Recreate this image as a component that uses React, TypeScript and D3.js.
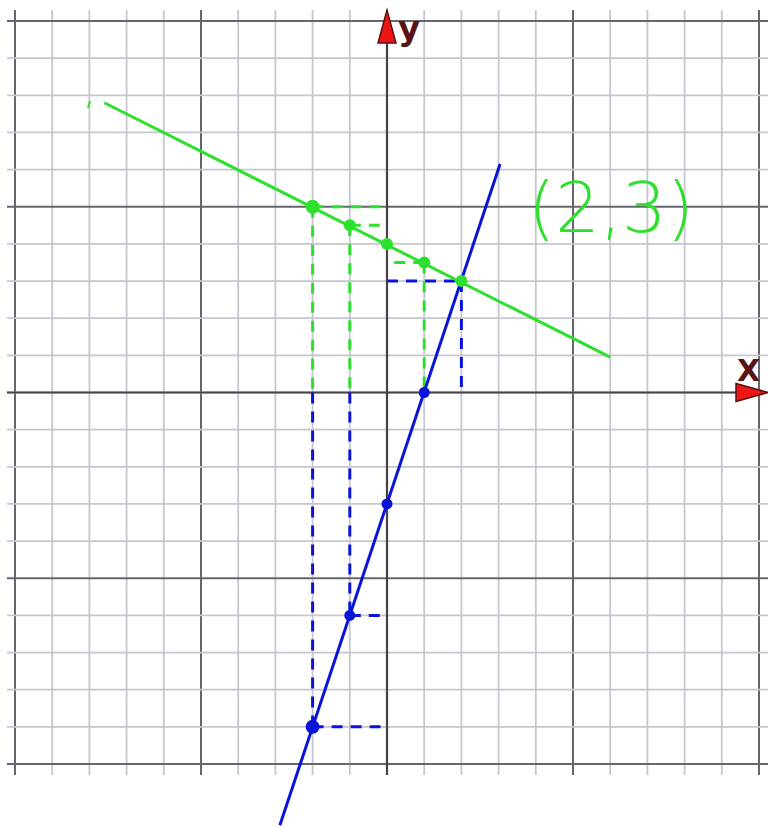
import React from "react";
import * as d3 from "d3";

const WIDTH = 768;
const HEIGHT = 827;

const gridTicks = d3.range(-10, 11);
const majorTicks = [-10, -5, 5, 10];

const greenLine: [number, number][] = [
  [-7.6, 7.8],
  [6.0, 0.95],
];
const blueLine: [number, number][] = [
  [-2.88, -11.65],
  [3.04, 6.15],
];

const greenPoints: [number, number][] = [
  [-2, 5],
  [-1, 4.5],
  [0, 4],
  [1, 3.5],
  [2, 3],
];
const bluePoints: [number, number][] = [
  [1, 0],
  [0, -3],
  [-1, -6],
  [-2, -9],
];

// dashed guide segments: [x1, y1, x2, y2]
const greenGuides = [
  [-2, 5, -2, 0],
  [-1, 4.5, -1, 0],
  [1, 3.5, 1, 0],
  [-2, 5, 0, 5],
  [-1, 4.5, 0, 4.5],
  [1, 3.5, 0, 3.5],
];
const blueGuides = [
  [0, 3, 2, 3],
  [2, 3, 2, 0],
  [-2, 0, -2, -9],
  [-1, 0, -1, -6],
  [-1, -6, 0, -6],
  [-2, -9, 0, -9],
];

const GREEN = "#2ee02e";
const BLUE = "#0a14d8";

const x = d3.scaleLinear().domain([-10, 10]).range([15, 759]);
const y = d3.scaleLinear().domain([-10, 10]).range([764, 21]);

const lineGen = d3
  .line<[number, number]>()
  .x((d) => x(d[0]))
  .y((d) => y(d[1]));

export default function App() {
  const x0 = x(0);
  const y0 = y(0);
  return (
    <svg
      width={WIDTH}
      height={HEIGHT}
      style={{ position: "absolute", left: 0, top: 0, background: "#fff" }}
    >
      {/* grid */}
      {gridTicks.map((t) => (
        <line
          key={"v" + t}
          x1={x(t)}
          x2={x(t)}
          y1={10}
          y2={775}
          stroke={majorTicks.includes(t) ? "#66666e" : "#c6c6d0"}
          strokeWidth={majorTicks.includes(t) ? 2 : 1.8}
        />
      ))}
      {gridTicks.map((t) => (
        <line
          key={"h" + t}
          x1={7}
          x2={WIDTH}
          y1={y(t)}
          y2={y(t)}
          stroke={majorTicks.includes(t) ? "#66666e" : "#c6c6d0"}
          strokeWidth={majorTicks.includes(t) ? 2 : 1.8}
        />
      ))}

      {/* axes */}
      <line x1={7} x2={740} y1={y0} y2={y0} stroke="#4a4048" strokeWidth={2.2} />
      <line x1={x0} x2={x0} y1={40} y2={775} stroke="#4a4048" strokeWidth={2.2} />
      <path
        d={`M${x0 - 9},43 L${x0},10 L${x0 + 9},43 Z`}
        fill="#ee1515"
        stroke="#5a1010"
        strokeWidth={1.5}
      />
      <path
        d={`M736,${y0 - 9} L768,${y0} L736,${y0 + 9} Z`}
        fill="#ee1515"
        stroke="#5a1010"
        strokeWidth={1.5}
      />
      <text
        x={x0 + 11}
        y={40}
        fontFamily="DejaVu Sans, sans-serif"
        fontSize={34}
        fontWeight="bold"
        fill="#5a1418"
      >
        y
      </text>
      <text
        x={737}
        y={381}
        fontFamily="DejaVu Sans, sans-serif"
        fontSize={30}
        fontWeight="bold"
        fill="#5a1418"
      >
        X
      </text>

      {/* dashed guides */}
      {blueGuides.map((g, i) => (
        <line
          key={"bg" + i}
          x1={x(g[0])}
          y1={y(g[1])}
          x2={x(g[2])}
          y2={y(g[3])}
          stroke={BLUE}
          strokeWidth={3}
          strokeDasharray="11 8"
        />
      ))}
      {greenGuides.map((g, i) => (
        <line
          key={"gg" + i}
          x1={x(g[0])}
          y1={y(g[1])}
          x2={x(g[2])}
          y2={y(g[3])}
          stroke={GREEN}
          strokeWidth={3}
          strokeDasharray="11 8"
        />
      ))}

      {/* lines */}
      <path d={lineGen(greenLine) ?? ""} stroke={GREEN} strokeWidth={3} fill="none" />
      <path d={lineGen(blueLine) ?? ""} stroke={BLUE} strokeWidth={3} fill="none" />
      <line x1={90} y1={101} x2={88} y2={108} stroke={GREEN} strokeWidth={2} />

      {/* points */}
      {greenPoints.map((p, i) => (
        <circle
          key={"gp" + i}
          cx={x(p[0])}
          cy={y(p[1])}
          r={i === 0 ? 7 : 6}
          fill={GREEN}
        />
      ))}
      {bluePoints.map((p, i) => (
        <circle
          key={"bp" + i}
          cx={x(p[0])}
          cy={y(p[1])}
          r={i === 3 ? 7 : 5.5}
          fill={BLUE}
        />
      ))}

      {/* annotation */}
      <text
        x={528}
        y={232}
        fontFamily="DejaVu Sans, sans-serif"
        fontWeight={200}
        fontSize={70}
        fill={GREEN}
      >
        (2,3)
      </text>
    </svg>
  );
}
